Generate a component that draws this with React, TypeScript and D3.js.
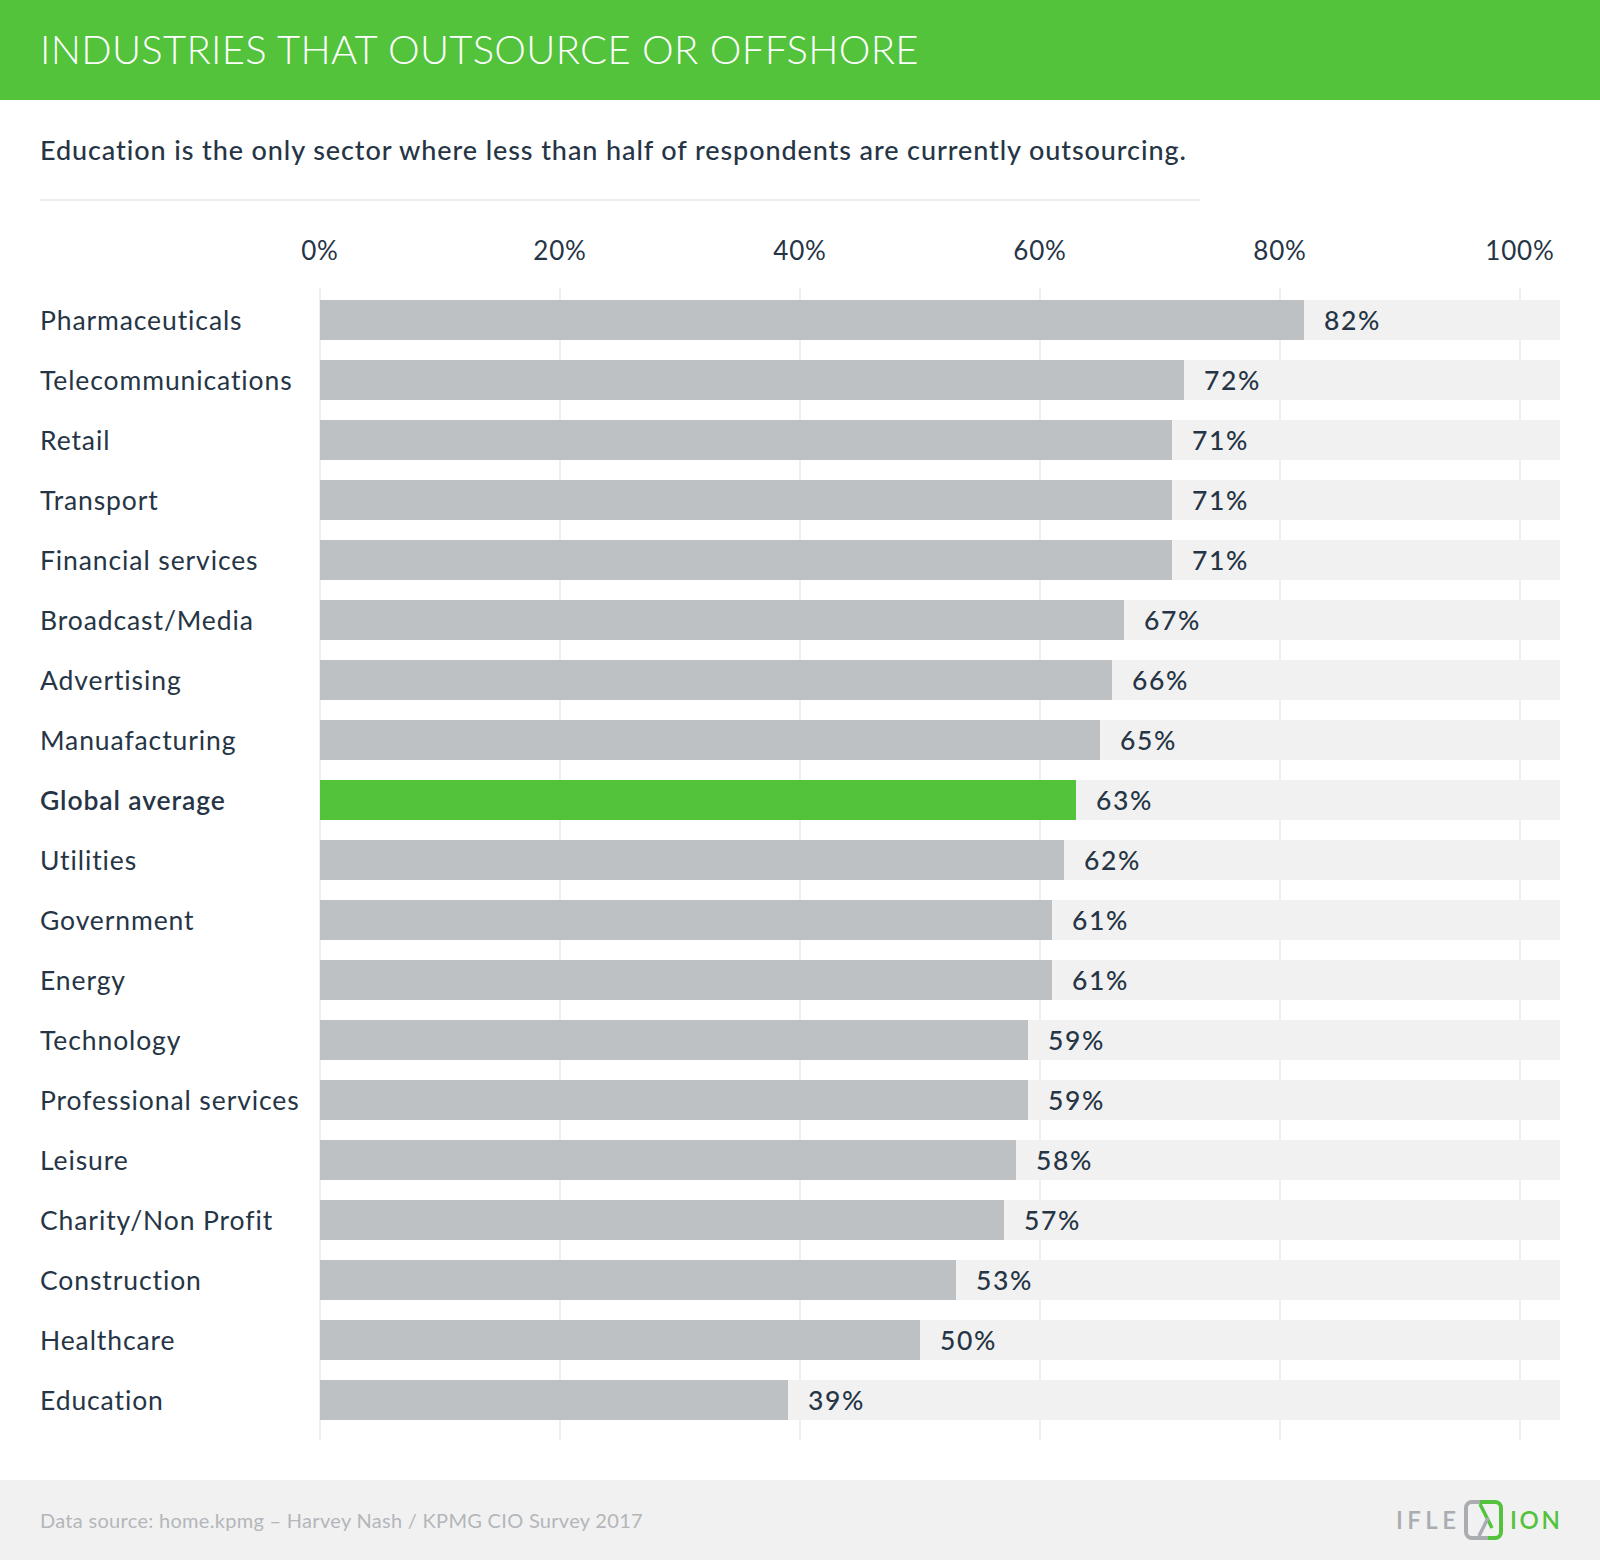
import React from "react";
import * as d3 from "d3";

const categories = [
  "Pharmaceuticals",
  "Telecommunications",
  "Retail",
  "Transport",
  "Financial services",
  "Broadcast/Media",
  "Advertising",
  "Manuafacturing",
  "Global average",
  "Utilities",
  "Government",
  "Energy",
  "Technology",
  "Professional services",
  "Leisure",
  "Charity/Non Profit",
  "Construction",
  "Healthcare",
  "Education",
];
const values = [82, 72, 71, 71, 71, 67, 66, 65, 63, 62, 61, 61, 59, 59, 58, 57, 53, 50, 39];
const highlight = "Global average";
const tickValues = [0, 20, 40, 60, 80, 100];

const title = "INDUSTRIES THAT OUTSOURCE OR OFFSHORE";
const subtitle = "Education is the only sector where less than half of respondents are currently outsourcing.";
const source = "Data source: home.kpmg \u2013 Harvey Nash / KPMG CIO Survey 2017";

const W = 1600;
const H = 1560;
const FONT = "Lato, 'Open Sans', sans-serif";
const GREEN = "#52c33a";
const DARK = "#263545";
const LOGO_GRAY = "#a9adb2";

export default function App() {
  const x = d3.scaleLinear().domain([0, 100]).range([320, 1520]);
  const y = d3.scaleBand().domain(categories).range([290, 1430]).paddingInner(1 / 3).paddingOuter(1 / 6);
  const bw = y.bandwidth();

  return (
    <svg width={W} height={H} style={{ position: "absolute", left: 0, top: 0, background: "#fff" }} fontFamily={FONT}>
      <rect x={0} y={0} width={W} height={H} fill="#fff" />
      {/* header */}
      <rect x={0} y={0} width={W} height={100} fill={GREEN} />
      <text x={40} y={64} fill="#fff" fontSize={40} fontWeight={300} letterSpacing={0.3}>
        {title}
      </text>
      <text x={40} y={160} fill={DARK} fontSize={27} fontWeight={500} letterSpacing={0.9}>
        {subtitle}
      </text>
      <line x1={40} x2={1200} y1={200} y2={200} stroke="#ececec" strokeWidth={2} />

      {/* gridlines */}
      {tickValues.map((t) => (
        <line key={"g" + t} x1={x(t)} x2={x(t)} y1={288} y2={1440} stroke="#eeeeee" strokeWidth={2} />
      ))}
      {tickValues.map((t) => (
        <text key={"t" + t} x={x(t)} y={260} textAnchor="middle" fill={DARK} fontSize={26} fontWeight={400} letterSpacing={0.8}>
          {t + "%"}
        </text>
      ))}

      {/* bars */}
      {categories.map((c, i) => {
        const yy = y(c)!;
        const v = values[i];
        const isH = c === highlight;
        return (
          <g key={c}>
            <rect x={x(0)} y={yy} width={1560 - x(0)} height={bw} fill="#f1f1f1" />
            <rect x={x(0)} y={yy} width={x(v) - x(0)} height={bw} fill={isH ? GREEN : "#bdc1c4"} />
            <text
              x={40}
              y={yy + bw / 2}
              dy="0.36em"
              fill={DARK}
              fontSize={26.5}
              fontWeight={isH ? 600 : 400}
              letterSpacing={0.9}
            >
              {c}
            </text>
            <text x={x(v) + 20} y={yy + bw / 2} dy="0.36em" fill={DARK} fontSize={26.5} fontWeight={500} letterSpacing={1.6}>
              {v + "%"}
            </text>
          </g>
        );
      })}

      {/* footer */}
      <rect x={0} y={1480} width={W} height={80} fill="#f1f1f1" />
      <text x={40} y={1528} fill="#b3b6ba" fontSize={20} fontWeight={400} letterSpacing={0.3}>
        {source}
      </text>
      <g transform="translate(1396,1520)">
        <text x={0} y={9} fill={LOGO_GRAY} fontSize={24} fontWeight={600} textLength={60} lengthAdjust="spacing">
          IFLE
        </text>
        <path d="M86,-18 h-10 a6,6 0 0 0 -6,6 v24 a6,6 0 0 0 6,6 h16" fill="none" stroke={LOGO_GRAY} strokeWidth={4} />
        <path d="M84,-18 h15 a6,6 0 0 1 6,6 v24 a6,6 0 0 1 -6,6 h-7" fill="none" stroke={GREEN} strokeWidth={4} />
        <path d="M84,-16 l12,24" fill="none" stroke={GREEN} strokeWidth={3.5} />
        <path d="M92,-2 l-9,18" fill="none" stroke={LOGO_GRAY} strokeWidth={3.5} />
        <text x={114} y={9} fill={GREEN} fontSize={24} fontWeight={600} textLength={50} lengthAdjust="spacing">
          ION
        </text>
      </g>
    </svg>
  );
}
